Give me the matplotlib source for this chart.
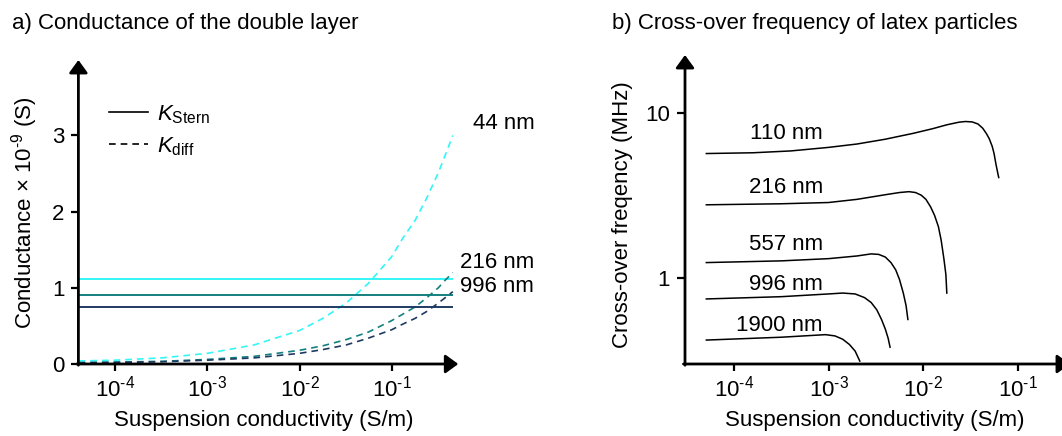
import matplotlib
matplotlib.use("Agg")
import matplotlib.pyplot as plt
from matplotlib.lines import Line2D

plt.rcParams["font.family"] = ["Liberation Sans", "DejaVu Sans"]
plt.rcParams["mathtext.fontset"] = "custom"
plt.rcParams["mathtext.rm"] = "Liberation Sans"
plt.rcParams["mathtext.it"] = "Liberation Sans:italic"
plt.rcParams["mathtext.default"] = "regular"

# ---------------- data: a) conductance of the double layer ----------------
sigma_a = [4.0e-5, 1e-4, 3.2e-4, 1e-3, 3.2e-3, 1e-2, 1.8e-2, 3.2e-2, 5.6e-2,
           0.1, 0.13, 0.18, 0.24, 0.32, 0.38, 0.46]
k_diff_44 = [0.04, 0.05, 0.08, 0.14, 0.25, 0.44, 0.60, 0.80, 1.06,
             1.41, 1.64, 1.89, 2.18, 2.51, 2.74, 3.00]
k_diff_216 = [0.02, 0.025, 0.035, 0.06, 0.10, 0.18, 0.24, 0.32, 0.42,
              0.57, 0.65, 0.75, 0.87, 1.00, 1.10, 1.20]
k_diff_996 = [0.015, 0.02, 0.03, 0.05, 0.08, 0.14, 0.19, 0.25, 0.34,
              0.45, 0.52, 0.60, 0.69, 0.80, 0.87, 0.95]
k_stern_range = [4.0e-5, 0.46]
k_stern_44 = 1.12
k_stern_216 = 0.90
k_stern_996 = 0.75
sizes_a = ["44 nm", "216 nm", "996 nm"]
label_a_x = [0.76, 0.55, 0.55]
label_a_y = [3.08, 1.26, 0.94]
colors_a = ["#33F6F6", "#12807F", "#1F3A62"]

xticks = [1e-4, 1e-3, 1e-2, 1e-1]
xticklabels = [r"10$^{\text{-4}}$", r"10$^{\text{-3}}$",
               r"10$^{\text{-2}}$", r"10$^{\text{-1}}$"]
yticks_a = [0, 1, 2, 3]

# ---------------- data: b) cross-over frequency ----------------
sigma_110 = [5.1e-5, 1.58e-4, 3.98e-4, 1e-3, 2.0e-3, 3.98e-3, 7.9e-3, 1.26e-2,
             1.78e-2, 2.4e-2, 2.8e-2, 3.3e-2, 3.8e-2, 4.27e-2, 4.68e-2, 5.0e-2,
             5.37e-2, 5.62e-2, 5.89e-2, 6.17e-2, 6.3e-2]
fco_110 = [5.69, 5.75, 5.9, 6.2, 6.5, 6.95, 7.55, 8.05, 8.5, 8.82, 8.9, 8.85,
           8.6, 8.1, 7.5, 7.0, 6.3, 5.7, 4.9, 4.3, 4.07]
sigma_216 = [5.1e-5, 3.16e-4, 1e-3, 2.0e-3, 3.98e-3, 5.62e-3, 7.08e-3, 8.3e-3,
             9.55e-3, 1.07e-2, 1.2e-2, 1.32e-2, 1.45e-2, 1.55e-2, 1.66e-2,
             1.74e-2, 1.78e-2]
fco_216 = [2.78, 2.82, 2.87, 3.0, 3.2, 3.3, 3.34, 3.3, 3.18, 3.0, 2.7, 2.4,
           2.05, 1.7, 1.3, 1.05, 0.81]
sigma_557 = [5.1e-5, 3.16e-4, 1e-3, 2.0e-3, 2.82e-3, 3.39e-3, 3.98e-3, 4.57e-3,
             5.13e-3, 5.62e-3, 6.17e-3, 6.6e-3, 6.9e-3]
fco_557 = [1.24, 1.27, 1.31, 1.36, 1.40, 1.39, 1.34, 1.24, 1.12, 0.98, 0.81,
           0.68, 0.56]
sigma_996 = [5.1e-5, 3.16e-4, 1e-3, 1.41e-3, 1.91e-3, 2.4e-3, 2.82e-3, 3.24e-3,
             3.63e-3, 3.98e-3, 4.27e-3, 4.47e-3]
fco_996 = [0.746, 0.77, 0.80, 0.81, 0.80, 0.76, 0.71, 0.64, 0.56, 0.49, 0.43,
           0.38]
sigma_1900 = [5.1e-5, 3.16e-4, 9.3e-4, 1.17e-3, 1.41e-3, 1.66e-3, 1.91e-3,
              2.14e-3]
fco_1900 = [0.42, 0.437, 0.453, 0.445, 0.425, 0.395, 0.36, 0.313]
sizes_b = ["110 nm", "216 nm", "557 nm", "996 nm", "1900 nm"]
label_b_x = 8.7e-4
label_b_y = [6.98, 3.27, 1.47, 0.84, 0.48]
yticks_b = [1, 10]
yticklabels_b = ["1", "10"]

FS = 16
W, H = 1062, 436
fig = plt.figure(figsize=(W / 100, H / 100), dpi=100)


def axes_px(x0, x1, ytop, ybot):
    return fig.add_axes([x0 / W, 1 - ybot / H, (x1 - x0) / W, (ybot - ytop) / H])


def arrow_axes(ax):
    for s in ax.spines.values():
        s.set_visible(False)
    head = "-|>,head_length=0.55,head_width=0.4"
    kw = dict(xycoords="axes fraction", textcoords="axes fraction",
              arrowprops=dict(arrowstyle=head, lw=2.0, color="k",
                              shrinkA=0, shrinkB=0, mutation_scale=14))
    ax.annotate("", xy=(1, 0), xytext=(-0.004, 0), **kw)
    ax.annotate("", xy=(0, 1), xytext=(0, -0.004), **kw)
    ax.tick_params(which="major", direction="out", length=5, width=1.6,
                   labelsize=FS, color="k")
    ax.tick_params(which="minor", length=0)
    ax.set_xscale("log")
    ax.set_xticks(xticks)
    ax.set_xticklabels(xticklabels)
    ax.tick_params(axis="x", pad=3.5)


# ---------------- panel a ----------------
ax1 = axes_px(78.4, 458.3, 60, 364)
arrow_axes(ax1)
ax1.set_xlim(10 ** -4.40, 10 ** -0.278)
ax1.set_ylim(0, 3.99)
ax1.set_yticks(yticks_a)
ax1.tick_params(axis="y", pad=5)

for kd, ks, c in zip([k_diff_44, k_diff_216, k_diff_996],
                     [k_stern_44, k_stern_216, k_stern_996], colors_a):
    ax1.plot(k_stern_range, [ks, ks], color=c, lw=1.4, solid_capstyle="butt")
    ax1.plot(sigma_a, kd, color=c, lw=1.2, linestyle=(0, (4, 3)))

for name, lx, ly in zip(sizes_a, label_a_x, label_a_y):
    ax1.text(lx, ly, name, fontsize=FS, ha="left", va="baseline", clip_on=False)

handles = [Line2D([], [], color="k", lw=1.2),
           Line2D([], [], color="k", lw=1.2, linestyle=(0, (4, 3)))]
ax1.legend(handles, [r"$\mathit{K}_{\mathregular{Stern}}$",
                     r"$\mathit{K}_{\mathregular{diff}}$"],
           loc="upper left", bbox_to_anchor=(109 / W, 1 - 103 / H),
           bbox_transform=fig.transFigure, frameon=False, fontsize=FS,
           handlelength=1.75, handletextpad=0.4, labelspacing=0.42,
           borderpad=0, borderaxespad=0)

ax1.set_xlabel("Suspension conductivity (S/m)", fontsize=FS)
ax1.xaxis.set_label_coords(0.489, -0.152)
ax1.set_ylabel(r"Conductance × 10$^{\text{-9}}$ (S)", fontsize=FS)
ax1.yaxis.set_label_coords(-0.10, 0.497)

# ---------------- panel b ----------------
ax2 = axes_px(685, 1070, 55, 364)
arrow_axes(ax2)
ax2.set_yscale("log")
ax2.set_xlim(10 ** -4.518, 10 ** -0.447)
ax2.set_ylim(10 ** -0.522, 10 ** 1.353)
ax2.set_yticks(yticks_b)
ax2.set_yticklabels(yticklabels_b)
ax2.tick_params(axis="y", pad=5, length=6)

for s, f in zip([sigma_110, sigma_216, sigma_557, sigma_996, sigma_1900],
                [fco_110, fco_216, fco_557, fco_996, fco_1900]):
    ax2.plot(s, f, color="k", lw=1.1)

for name, ly in zip(sizes_b, label_b_y):
    ax2.text(label_b_x, ly, name, fontsize=FS, ha="right", va="baseline")

ax2.set_xlabel("Suspension conductivity (S/m)", fontsize=FS)
ax2.xaxis.set_label_coords(0.492, -0.148)
ax2.set_ylabel("Cross-over freqency (MHz)", fontsize=FS)
ax2.yaxis.set_label_coords(-0.135, 0.482)

# ---------------- titles ----------------
fig.text(12 / W, 1 - 29.3 / H, "a) Conductance of the double layer",
         fontsize=FS, ha="left", va="baseline")
fig.text(611.7 / W, 1 - 29.3 / H, "b) Cross-over frequency of latex particles",
         fontsize=FS, ha="left", va="baseline")

fig.savefig("out.png", dpi=100)
